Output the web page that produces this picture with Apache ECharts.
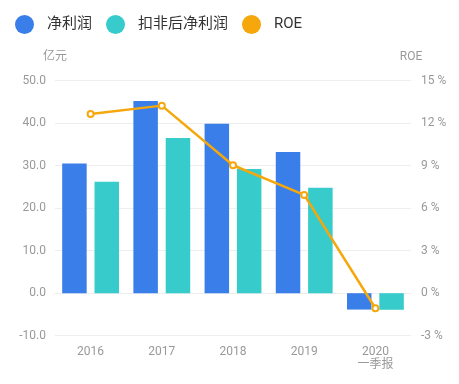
<!DOCTYPE html>
<html>
<head>
<meta charset="utf-8">
<script src="https://cdn.jsdelivr.net/npm/echarts@6/dist/echarts.min.js"></script>
<style>html,body{margin:0;padding:0;background:#fff;}#c{width:459px;height:384px;}</style>
</head>
<body>
<div id="c"></div>
<script>
var categories = ['2016', '2017', '2018', '2019', '2020\n一季报'];
var netProfit = [30.5, 45.2, 39.9, 33.2, -3.85];
var deductedProfit = [26.2, 36.5, 29.2, 24.8, -3.9];
var roe = [12.65, 13.24, 9.03, 6.94, -1.06];
var leftTicks = { min: -10, max: 50, interval: 10 };
var rightTicks = { min: -3, max: 15, interval: 3 };

var FONT = "Roboto, 'Noto Sans CJK SC', sans-serif";
var chart = echarts.init(document.getElementById('c'));
chart.setOption({
  animation: false,
  textStyle: { fontFamily: FONT },
  legend: {
    left: 10, top: 10,
    itemWidth: 19, itemHeight: 19, itemGap: 14,
    icon: 'circle',
    textStyle: { fontSize: 15, color: '#333', fontFamily: FONT, padding: [0, 0, 0, 8] },
    data: ['净利润', '扣非后净利润', 'ROE']
  },
  grid: { left: 55, right: 48, top: 80.7, bottom: 48.3, containLabel: false },
  xAxis: {
    type: 'category',
    data: categories,
    axisLine: { show: true, lineStyle: { color: '#eeeeee' } },
    axisTick: { show: false },
    axisLabel: { color: '#999', fontSize: 12, margin: 10, lineHeight: 13, fontFamily: FONT }
  },
  yAxis: [{
    type: 'value',
    name: '亿元',
    nameLocation: 'end',
    nameGap: 18,
    nameTextStyle: { color: '#999', fontSize: 12, align: 'center', fontFamily: FONT },
    min: leftTicks.min, max: leftTicks.max, interval: leftTicks.interval,
    axisLine: { show: false }, axisTick: { show: false },
    axisLabel: { color: '#999', fontSize: 12, margin: 9, formatter: function (v) { return v.toFixed(1); } },
    splitLine: { lineStyle: { color: '#eeeeee' } }
  }, {
    type: 'value',
    name: 'ROE',
    nameLocation: 'end',
    nameGap: 18,
    nameTextStyle: { color: '#999', fontSize: 12, align: 'center', fontFamily: FONT },
    min: rightTicks.min, max: rightTicks.max, interval: rightTicks.interval,
    axisLine: { show: false }, axisTick: { show: false },
    axisLabel: { color: '#999', fontSize: 12, margin: 10, formatter: function (v) { return v + ' %'; } },
    splitLine: { show: false }
  }],
  series: [{
    name: '净利润', type: 'bar', data: netProfit,
    barWidth: 24.5, barGap: '32%',
    itemStyle: { color: '#3a7ee9' }
  }, {
    name: '扣非后净利润', type: 'bar', data: deductedProfit,
    barWidth: 24.5, barGap: '32%',
    itemStyle: { color: '#37cbcb' }
  }, {
    name: 'ROE', type: 'line', yAxisIndex: 1, data: roe,
    symbol: 'emptyCircle', symbolSize: 6,
    lineStyle: { color: '#f5a70b', width: 2.5 },
    itemStyle: { color: '#f5a70b', borderWidth: 1.5 },
    z: 5
  }]
});
</script>
</body>
</html>
